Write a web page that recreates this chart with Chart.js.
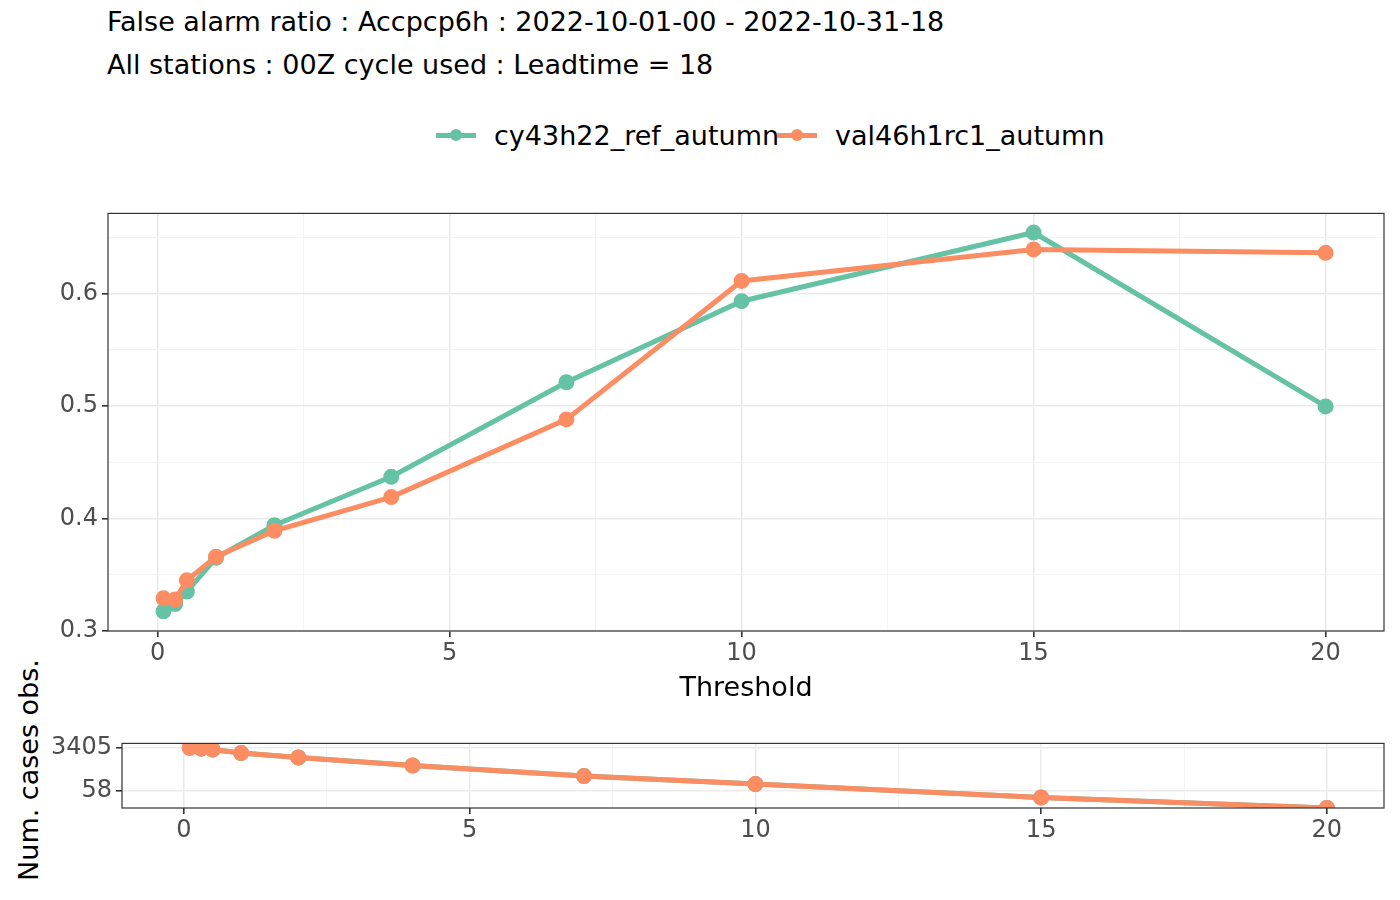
<!DOCTYPE html>
<html><head><meta charset="utf-8">
<script src="https://cdn.jsdelivr.net/npm/chart.js@4"></script>
<style>
body{margin:0;width:1400px;height:900px;background:#fff;font-family:"DejaVu Sans",sans-serif;position:relative;overflow:hidden}
.t{position:absolute;left:107px;font-size:27px;color:#000;white-space:nowrap}
#c1,#c2{position:absolute;left:0}
#leg{position:absolute;top:120px;left:436px;font-size:27px;display:flex;align-items:center;white-space:nowrap}
.sw{display:inline-block;width:40px;height:5px;position:relative;margin-right:18px}
.sw i{position:absolute;left:14px;top:-4px;width:12px;height:12px;border-radius:50%;background:inherit}
#ylab{position:absolute;left:28px;top:770px;transform:translate(-50%,-50%) rotate(-90deg);font-size:27px;white-space:nowrap}
</style></head><body>
<div class="t" style="top:6px">False alarm ratio : Accpcp6h : 2022-10-01-00 - 2022-10-31-18</div>
<div class="t" style="top:49px">All stations : 00Z cycle used : Leadtime = 18</div>
<div id="leg"><span class="sw" style="background:#66c2a5"><i></i></span><span>cy43h22_ref_autumn</span><span class="sw" style="background:#fc8d62;margin-left:-2px"><i></i></span><span>val46h1rc1_autumn</span></div>
<div id="ylab">Num. cases obs.</div>
<canvas id="c1" style="top:195px"></canvas>
<canvas id="c2" style="top:725px"></canvas>
<script>
const thresholds = [0.1, 0.3, 0.5, 1, 2, 4, 7, 10, 15, 20];
const farRef = [0.3175, 0.324, 0.335, 0.365, 0.394, 0.437, 0.521, 0.593, 0.654, 0.4995];
const farVal = [0.329, 0.328, 0.345, 0.366, 0.389, 0.419, 0.488, 0.611, 0.639, 0.636];
const casesRef = [3405, 3135, 2885, 2070, 1365, 646, 238, 113, 32, 12];
const casesVal = [3405, 3135, 2885, 2070, 1365, 646, 238, 113, 32, 12];
const caseTicks = [58, 3405];
const GREEN = '#66c2a5', ORANGE = '#fc8d62';
const font = {family: 'DejaVu Sans', size: 24};

const border = {id: 'border', afterDraw(c) {
  const a = c.chartArea, x = c.ctx;
  x.save(); x.strokeStyle = '#333'; x.lineWidth = 1.2;
  x.strokeRect(a.left, a.top, a.right - a.left, a.bottom - a.top); x.restore();
}};

function ds(label, ys, color, order) {
  return {label, order, data: thresholds.map((t, i) => ({x: t, y: ys[i]})), borderColor: color,
    backgroundColor: color, borderWidth: 5, pointRadius: 5.5, pointHoverRadius: 5.5};
}
const major5 = c => c.tick && c.tick.value % 5 === 0;
function xScale(min, h) {
  return {type: 'linear', min, max: 21, afterFit: s => { s.height = h; },
    afterBuildTicks: s => { s.ticks = [0,2.5,5,7.5,10,12.5,15,17.5,20].map(v => ({value: v})); },
    ticks: {font, color: '#4d4d4d', autoSkip: false, maxRotation: 0, padding: 2, callback: v => v % 5 === 0 ? v : ''},
    grid: {color: c => major5(c) ? '#ebebeb' : '#f4f4f4', lineWidth: c => major5(c) ? 1.6 : 1,
      tickColor: c => major5(c) ? '#333' : 'rgba(0,0,0,0)', tickLength: 6},
    border: {display: false}};
}

const c1 = document.getElementById('c1'); c1.width = 1400; c1.height = 510;
const x1 = xScale(-0.85, 74);
x1.title = {display: true, text: 'Threshold', font: {family: 'DejaVu Sans', size: 27}, color: '#000', padding: {top: 0, bottom: 0}};
const major10 = c => c.tick && Math.round(c.tick.value*100) % 10 === 0;
new Chart(c1, {
  type: 'line',
  data: {datasets: [ds('cy43h22_ref_autumn', farRef, GREEN, 1), ds('val46h1rc1_autumn', farVal, ORANGE, 0)]},
  options: {responsive: false, animation: false, layout: {padding: {top: 12, right: 16, left: 0, bottom: 0}},
    plugins: {legend: {display: false}, tooltip: {enabled: false}},
    scales: {x: x1,
      y: {min: 0.3, max: 0.671, afterFit: s => { s.width = 108; },
        afterBuildTicks: s => { s.ticks = [0.3,0.35,0.4,0.45,0.5,0.55,0.6,0.65].map(v => ({value: v})); },
        ticks: {font, color: '#4d4d4d', padding: 4, callback: v => (Math.round(v*100) % 10 === 0) ? v.toFixed(1) : ''},
        grid: {color: c => major10(c) ? '#ebebeb' : '#f4f4f4', lineWidth: c => major10(c) ? 1.6 : 1,
          tickColor: c => major10(c) ? '#333' : 'rgba(0,0,0,0)', tickLength: 6},
        border: {display: false}}}},
  plugins: [border]
});

const c2 = document.getElementById('c2'); c2.width = 1400; c2.height = 175;
new Chart(c2, {
  type: 'line',
  data: {datasets: [ds('cy43h22_ref_autumn', casesRef, GREEN, 1), ds('val46h1rc1_autumn', casesVal, ORANGE, 0)]},
  options: {responsive: false, animation: false, layout: {padding: {top: 10, right: 16, left: 0, bottom: 0}},
    plugins: {legend: {display: false}, tooltip: {enabled: false}},
    scales: {x: xScale(-1.085, 92),
      y: {type: 'logarithmic', min: Math.pow(10, 1.077), max: Math.pow(10, 3.71), afterFit: s => { s.width = 122; },
        afterBuildTicks: s => { s.ticks = caseTicks.map(v => ({value: v})); },
        ticks: {font, color: '#4d4d4d', padding: 4, callback: v => v},
        grid: {color: '#ebebeb', lineWidth: 1.6, tickColor: '#333', tickLength: 6},
        border: {display: false}}}},
  plugins: [border]
});
</script>
</body></html>
